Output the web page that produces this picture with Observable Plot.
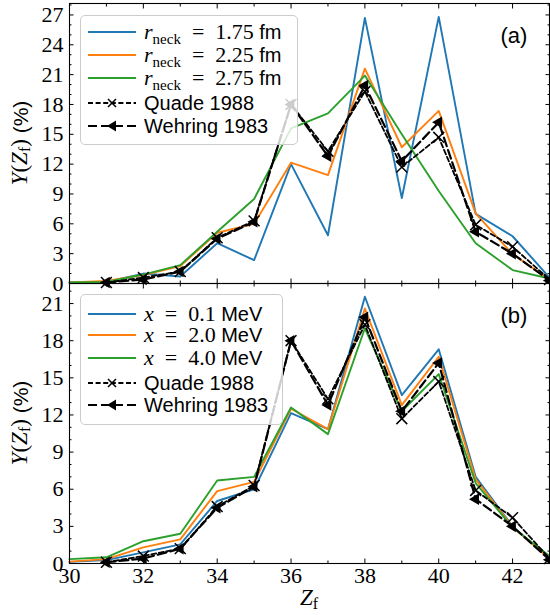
<!DOCTYPE html>
<html><head><meta charset="utf-8">
<script src="https://cdn.jsdelivr.net/npm/d3@7"></script>
<script src="https://cdn.jsdelivr.net/npm/@observablehq/plot@0.6"></script>
<style>
html,body{margin:0;padding:0;background:#fff;}
#wrap{position:relative;width:550px;height:615px;overflow:hidden;background:#fff;}
#wrap > svg{display:block;}
.legend{position:absolute;background:rgba(255,255,255,0.8);border:1px solid #cccccc;border-radius:5px;box-sizing:border-box;}
.row{position:absolute;left:0;height:24px;display:flex;align-items:center;white-space:nowrap;}
.row svg{margin-left:7px;margin-right:8px;flex:none;}
.serif{font-family:"Liberation Serif",serif;font-size:22px;}
.sans{font-family:"Liberation Sans",sans-serif;font-size:20px;}
.sub{font-size:15px;position:relative;top:5px;}
</style></head><body><div id="wrap"></div>
<script>
// ---------- data ----------
const Z = [30,31,32,33,34,35,36,37,38,39,40,41,42,43];
const rneck175 = [0.1,0.15,1.0,0.7,4.05,2.35,12.0,4.85,26.7,8.6,26.8,7.0,4.75,0.6];
const rneck225 = [0.1,0.25,0.85,1.75,5.1,6.0,12.15,10.9,21.6,13.7,17.35,7.05,2.95,0.4];
const rneck275 = [0.1,0.15,0.9,1.85,5.2,8.5,15.6,17.1,20.9,15.0,9.3,4.05,1.35,0.5];
const exc01 = [0.13,0.27,0.9,1.55,5.05,6.0,12.15,10.85,21.55,13.6,17.3,7.0,3.0,0.4];
const exc20 = [0.15,0.35,1.3,1.95,5.85,6.6,12.5,10.85,20.6,12.8,16.7,6.8,2.95,0.4];
const exc40 = [0.35,0.5,1.8,2.4,6.7,7.0,12.6,10.45,19.0,12.3,15.3,6.5,2.9,0.6];
const Zexp = [31,32,33,34,35,36,37,38,39,40,41,42,43];
const quade = [0.1,0.6,1.2,4.6,6.3,18.0,13.3,19.3,11.7,14.7,5.9,3.7,0.4];
const wehring = [0.1,0.4,1.2,4.5,6.2,18.0,12.8,19.9,12.3,16.2,5.2,3.0,0.3];
const rneckLabels = ["1.75","2.25","2.75"];
const excLabels = ["0.1","2.0","4.0"];
const xMajor = [30,32,34,36,38,40,42];
const xMinor = [31,33,35,37,39,41,43];
const yMajorA = [0,3,6,9,12,15,18,21,24,27];
const yMajorB = [0,3,6,9,12,15,18,21];
const colors = ["#1f77b4","#ff7f0e","#2ca02c"];

const wrap = document.getElementById("wrap");

function makePanel({series, ymax, yMajor, height, marginTop, marginBottom, showX, tag, tagY}) {
  const yMinor = d3.range(1, Math.floor(ymax) + 1).filter(v => v % 3 !== 0);
  const marks = [];
  series.forEach((vals, k) => {
    marks.push(Plot.line(Z.map((z, i) => ({z, v: vals[i]})), {x: "z", y: "v", stroke: colors[k], strokeWidth: 1.9}));
  });
  const qd = Zexp.map((z, i) => ({z, v: quade[i]}));
  const wd = Zexp.map((z, i) => ({z, v: wehring[i]}));
  marks.push(Plot.line(qd, {x: "z", y: "v", stroke: "black", strokeWidth: 1.8, strokeDasharray: "5,2.6"}));
  marks.push(Plot.dot(qd, {x: "z", y: "v", symbol: "times", r: 5, stroke: "black", strokeWidth: 1.5}));
  marks.push(Plot.line(wd, {x: "z", y: "v", stroke: "black", strokeWidth: 2.2, strokeDasharray: "9,4"}));
  marks.push(Plot.dot(wd, {x: "z", y: "v", symbol: "triangle2", r: 5.5, fill: "black", rotate: -90}));
  const blank = () => "";
  marks.push(Plot.axisY({anchor: "left", ticks: yMajor, tickSize: -4.5, tickPadding: 10.5, label: null, tickFormat: d => String(d)}));
  marks.push(Plot.axisY({anchor: "left", ticks: yMinor, tickSize: -2.5, tickFormat: blank, label: null}));
  marks.push(Plot.axisY({anchor: "right", ticks: yMajor, tickSize: -4.5, tickFormat: blank, label: null}));
  marks.push(Plot.axisY({anchor: "right", ticks: yMinor, tickSize: -2.5, tickFormat: blank, label: null}));
  marks.push(Plot.axisX({anchor: "bottom", ticks: xMajor, tickSize: -4.5, tickPadding: 8, label: null, tickFormat: showX ? (d => String(d)) : blank}));
  marks.push(Plot.axisX({anchor: "bottom", ticks: xMinor, tickSize: -2.5, tickFormat: blank, label: null}));
  marks.push(Plot.axisX({anchor: "top", ticks: xMajor, tickSize: -4.5, tickFormat: blank, label: null}));
  marks.push(Plot.axisX({anchor: "top", ticks: xMinor, tickSize: -2.5, tickFormat: blank, label: null}));
  marks.push(Plot.frame({stroke: "black", strokeWidth: 1.1}));
  const svg = Plot.plot({
    width: 550, height, marginLeft: 69, marginRight: 1, marginTop, marginBottom,
    x: {domain: [30, 43]}, y: {domain: [0, ymax]},
    style: {fontFamily: '"Liberation Serif", serif', fontSize: "22px", color: "black", background: "transparent", overflow: "visible"},
    marks
  });
  const s = d3.select(svg);
  const cy = marginTop + (height - marginTop - marginBottom) / 2;
  const yl = s.append("text")
    .attr("transform", `translate(22,${cy}) rotate(-90)`)
    .attr("text-anchor", "middle").attr("dominant-baseline", "middle")
    .attr("font-size", 23).attr("fill", "black");
  yl.append("tspan").attr("font-style", "italic").text("Y");
  yl.append("tspan").text("(");
  yl.append("tspan").attr("font-style", "italic").text("Z");
  yl.append("tspan").attr("dy", 4).attr("font-size", 16).text("f");
  yl.append("tspan").attr("dy", -4).text(")");
  yl.append("tspan").attr("font-family", '"Liberation Sans", sans-serif').attr("font-size", 21).text(" (%)");
  s.append("text").attr("x", 514).attr("y", tagY).attr("text-anchor", "middle").attr("dominant-baseline", "middle")
    .attr("font-family", '"Liberation Sans", sans-serif').attr("font-size", 22).attr("fill", "black").text(tag);
  if (showX) {
    const xl = s.append("text").attr("x", 309).attr("y", height - 10).attr("text-anchor", "middle")
      .attr("font-size", 23).attr("fill", "black");
    xl.append("tspan").attr("font-style", "italic").text("Z");
    xl.append("tspan").attr("dy", 4).attr("font-size", 16).text("f");
  }
  return svg;
}

wrap.appendChild(makePanel({series: [rneck175, rneck225, rneck275], ymax: 28.15, yMajor: yMajorA,
  height: 283, marginTop: 3, marginBottom: 0, showX: false, tag: "(a)", tagY: 37}));
wrap.appendChild(makePanel({series: [exc01, exc20, exc40], ymax: 22.62, yMajor: yMajorB,
  height: 332, marginTop: 0, marginBottom: 52, showX: true, tag: "(b)", tagY: 34}));

// ---------- legends ----------
function sample(kind, color) {
  const w = 48, h = 20;
  const svg = d3.create("svg").attr("width", w).attr("height", h);
  if (kind === "line") {
    svg.append("line").attr("x1", 0).attr("x2", w).attr("y1", 10).attr("y2", 10).attr("stroke", color).attr("stroke-width", 1.9);
  } else if (kind === "quade") {
    svg.append("line").attr("x1", 0).attr("x2", w).attr("y1", 10).attr("y2", 10).attr("stroke", "black").attr("stroke-width", 1.8).attr("stroke-dasharray", "5,2.6");
    svg.append("path").attr("d", "M20,6L28,14M20,14L28,6").attr("stroke", "black").attr("stroke-width", 1.5);
  } else {
    svg.append("line").attr("x1", 0).attr("x2", w).attr("y1", 10).attr("y2", 10).attr("stroke", "black").attr("stroke-width", 2.2).attr("stroke-dasharray", "9,4");
    svg.append("path").attr("d", "M19,10L28,4.5L28,15.5Z").attr("fill", "black");
  }
  return svg.node();
}
function legend({left, top, width, height, rowCenters, rows}) {
  const box = document.createElement("div");
  box.className = "legend";
  Object.assign(box.style, {left: left + "px", top: top + "px", width: width + "px", height: height + "px"});
  rows.forEach((r, i) => {
    const row = document.createElement("div");
    row.className = "row";
    row.style.top = (rowCenters[i] - 12) + "px";
    row.appendChild(sample(r.kind, r.color));
    const t = document.createElement("span");
    t.innerHTML = r.html;
    row.appendChild(t);
    box.appendChild(row);
  });
  wrap.appendChild(box);
}
const rRows = rneckLabels.map((v, k) => ({kind: "line", color: colors[k],
  html: `<span class="serif"><i>r</i><span class="sub">neck</span>&nbsp;&nbsp;=&nbsp;&nbsp;${v}&nbsp;</span><span class="sans">fm</span>`}));
const xRows = excLabels.map((v, k) => ({kind: "line", color: colors[k],
  html: `<span class="serif"><i>x</i>&nbsp;&nbsp;=&nbsp;&nbsp;${v}&nbsp;</span><span class="sans">MeV</span>`}));
const expRows = [
  {kind: "quade", html: `<span class="sans">Quade 1988</span>`},
  {kind: "wehring", html: `<span class="sans">Wehring 1983</span>`}
];
legend({left: 80, top: 15, width: 218, height: 130, rowCenters: [16, 39, 62, 87, 110], rows: rRows.concat(expRows)});
legend({left: 80, top: 294, width: 203, height: 131, rowCenters: [19, 40, 63, 88, 110], rows: xRows.concat(expRows)});
</script></body></html>
